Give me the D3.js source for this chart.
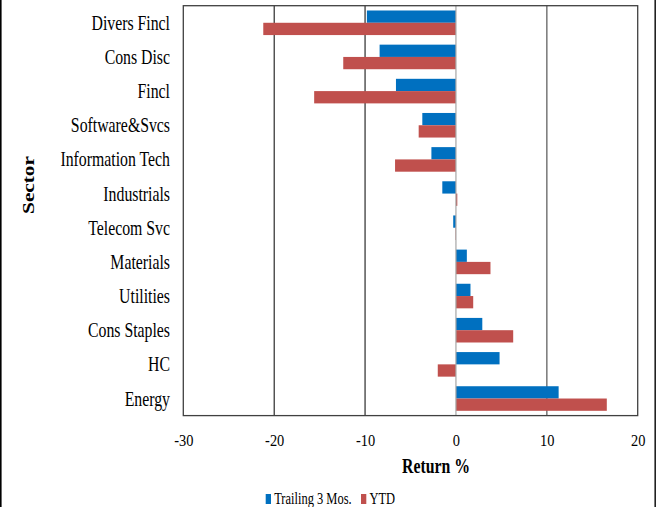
<!DOCTYPE html>
<html>
<head>
<meta charset="utf-8">
<script src="https://cdn.jsdelivr.net/npm/d3@7"></script>
<style>
  html, body { margin: 0; padding: 0; background: #fff; }
  svg { display: block; }
  text { font-family: "Liberation Serif", "Times New Roman", serif; fill: #000; }
</style>
</head>
<body>
<svg id="chart" width="658" height="507"></svg>
<script>
// Sector returns (%)
const sectors = ["Divers Fincl", "Cons Disc", "Fincl", "Software&Svcs", "Information Tech",
  "Industrials", "Telecom Svc", "Materials", "Utilities", "Cons Staples", "HC", "Energy"];
const seriesNames = ["Trailing 3 Mos.", "YTD"];
const trailing3Mos = [-9.8, -8.4, -6.6, -3.7, -2.7, -1.5, -0.3, 1.2, 1.6, 2.9, 4.8, 11.3];
const ytd = [-21.2, -12.4, -15.6, -4.1, -6.7, 0.15, -0.05, 3.8, 1.9, 6.3, -2.0, 16.6];
const xTicks = [-30, -20, -10, 0, 10, 20];
const colors = ["#0070C0", "#C0504D"];

const svg = d3.select("#chart");
const plotLeft = 183.3, plotRight = 637.7, plotTop = 5.7, plotBottom = 415.6;

const x = d3.scaleLinear().domain([-30, 20]).range([plotLeft, plotRight]);
const y = d3.scaleBand().domain(sectors).range([plotTop, plotBottom]).padding(0);
const ySub = d3.scaleBand().domain(seriesNames).range([0, y.bandwidth()]).paddingOuter(0.39).paddingInner(0);

const rows = sectors.map((s, i) => ({ sector: s, values: [trailing3Mos[i], ytd[i]] }));

// outer frame sides
svg.append("line").attr("x1", 0.8).attr("x2", 0.8).attr("y1", 0).attr("y2", 507)
  .attr("stroke", "#000").attr("stroke-width", 1.6);
svg.append("line").attr("x1", 655.2).attr("x2", 655.2).attr("y1", 0).attr("y2", 507)
  .attr("stroke", "#222").attr("stroke-width", 1.6);

// gridlines
const grid = svg.append("g");
grid.selectAll("line").data(xTicks.filter(t => t !== 0 && t !== -30 && t !== 20)).join("line")
  .attr("x1", d => x(d)).attr("x2", d => x(d))
  .attr("y1", plotTop).attr("y2", plotBottom)
  .attr("stroke", d => d < 0 ? "#000" : "#7f7f7f")
  .attr("stroke-width", d => d < 0 ? 1 : 1.6);

// bars
const g = svg.append("g");
rows.forEach(r => {
  const rg = g.append("g").attr("transform", `translate(0,${y(r.sector)})`);
  rg.selectAll("rect").data(r.values.map((v, j) => ({ v, name: seriesNames[j], c: colors[j] }))).join("rect")
    .attr("x", d => x(Math.min(0, d.v)))
    .attr("width", d => Math.abs(x(d.v) - x(0)))
    .attr("y", d => ySub(d.name))
    .attr("height", ySub.bandwidth())
    .attr("fill", d => d.c);
});

// zero line
svg.append("line").attr("x1", x(0)).attr("x2", x(0)).attr("y1", plotTop).attr("y2", plotBottom)
  .attr("stroke", "#a6a6a6").attr("stroke-width", 1.2);

// plot frame
svg.append("rect").attr("x", plotLeft).attr("y", plotTop)
  .attr("width", plotRight - plotLeft).attr("height", plotBottom - plotTop)
  .attr("fill", "none").attr("stroke", "#404040").attr("stroke-width", 1.3);

// x axis labels
const xAxis = d3.axisBottom(x).tickValues(xTicks).tickSize(0).tickPadding(0).tickFormat(d3.format("d"));
const xa = svg.append("g").attr("transform", `translate(0,${plotBottom})`).call(xAxis);
xa.select(".domain").remove();
xa.selectAll("text")
  .attr("font-family", "Liberation Serif").attr("font-size", 16)
  .attr("y", 30).attr("dy", 0)
  .attr("transform", "scale(0.9,1)")
  .text(d => d < 0 ? "-" + Math.abs(d) : d);

// y axis labels
const yAxis = d3.axisLeft(y).tickSize(0).tickPadding(0);
const ya = svg.append("g").attr("transform", `translate(${plotLeft},0)`).call(yAxis);
ya.select(".domain").remove();
const sxY = 0.79;
ya.selectAll("text")
  .attr("font-family", "Liberation Serif").attr("font-size", 20)
  .attr("x", -13.3 / sxY).attr("dy", 7)
  .attr("transform", `scale(${sxY},1)`);

// axis titles
svg.append("text")
  .attr("transform", `translate(436,473) scale(0.79,1)`)
  .attr("text-anchor", "middle").attr("font-weight", "bold").attr("font-size", 20)
  .text("Return %");

svg.append("text")
  .attr("transform", `translate(33.5,185) rotate(-90) scale(1.33,1)`)
  .attr("text-anchor", "middle").attr("font-weight", "bold").attr("font-size", 16)
  .text("Sector");

// legend
const legendX = [265.7, 361];
const legend = svg.append("g");
seriesNames.forEach((name, j) => {
  legend.append("rect").attr("x", legendX[j]).attr("y", 494).attr("width", 5.3).attr("height", 10)
    .attr("fill", colors[j]);
  legend.append("text")
    .attr("transform", `translate(${legendX[j] + 8.5},504) scale(0.78,1)`)
    .attr("font-size", 16)
    .text(name);
});
</script>
</body>
</html>
